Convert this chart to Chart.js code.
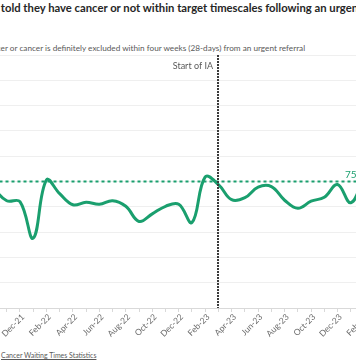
<!DOCTYPE html>
<html><head><meta charset="utf-8">
<script src="https://cdn.jsdelivr.net/npm/chart.js@4"></script>
<style>
html,body{margin:0;padding:0;width:356px;height:364px;overflow:hidden;background:#fff;}
#wrap{position:relative;width:356px;height:364px;overflow:hidden;}
.txt{position:absolute;white-space:nowrap;margin:0;padding:0;}
#title{color:#262626;}
#subtitle{color:#595959;}
#source{color:#595959;}
#source a{color:#595959;text-decoration:underline;}
#c{position:absolute;left:-40px;top:0;}
</style></head>
<body><div id="wrap">
<div id="title" class="txt">Percentage of patients told they have cancer or not within target timescales following an urgent referral</div>
<div id="subtitle" class="txt">Percentage of patients told they have cancer or cancer is definitely excluded within four weeks (28-days) from an urgent referral</div>
<div id="source" class="txt">Source: <a>Cancer Waiting Times Statistics</a></div>
<canvas id="c" width="420" height="364"></canvas>
</div>
<script>
const months = ['Oct-21','Nov-21','Dec-21','Jan-22','Feb-22','Mar-22','Apr-22','May-22','Jun-22','Jul-22','Aug-22','Sep-22','Oct-22','Nov-22','Dec-22','Jan-23','Feb-23','Mar-23','Apr-23','May-23','Jun-23','Jul-23','Aug-23','Sep-23','Oct-23','Nov-23','Dec-23','Jan-24','Feb-24'];
const fdsPerformance = [73.6,71.2,71.0,63.8,75.3,72.6,70.4,70.9,70.5,71.2,70.1,67.1,68.6,70.1,70.5,66.9,75.9,74.4,71.4,71.8,73.9,74.0,71.3,69.7,71.1,71.9,74.4,70.8,75.8];
const targetLine = [75,75,75,75,75,75,75,75,75,75,75,75,75,75,75,75,75,75,75,75,75,75,75,75,75,75,75,75,75];
const targetValue = 75;
const targetLabelMonth = 'Jan-24';
const iaMonth = 'Mar-23';
const iaLabel = 'Start of IA';
const yTicks = {min:50, max:100, step:5};

const green = '#1a9f6e';
const FAMILY = 'Lato, "Open Sans", sans-serif';

function placeText(el, weight, visible, prefix, x0, x1, baseline){
  const ctx = document.createElement('canvas').getContext('2d');
  ctx.font = weight + ' 20px ' + FAMILY;
  const w = ctx.measureText(visible).width;
  const size = 20 * (x1 - x0) / w;
  ctx.font = weight + ' ' + size + 'px ' + FAMILY;
  const m = ctx.measureText(visible);
  const pre = prefix ? ctx.measureText(prefix).width : 0;
  const A = m.fontBoundingBoxAscent, D = m.fontBoundingBoxDescent;
  const L = Math.ceil(A + D);
  el.style.font = weight + ' ' + size + 'px ' + FAMILY;
  el.style.lineHeight = L + 'px';
  el.style.left = (x0 - pre) + 'px';
  el.style.top = (baseline - (L - (A + D)) / 2 - A) + 'px';
}
placeText(document.getElementById('title'), 'bold',
  'told they have cancer or not within target timescales following an urge',
  'Percentage of patients ', 1, 353, 11.5);
placeText(document.getElementById('subtitle'), 'normal',
  'er or cancer is definitely excluded within four weeks (28-days) from an urgent referral',
  'Percentage of patients told they have canc', 1, 307, 51);
placeText(document.getElementById('source'), 'normal',
  'Cancer Waiting Times Statistics', 'Source: ', 1, 97, 358);

const annot = {
  id:'annot',
  afterDatasetsDraw(chart){
    const {ctx, chartArea:{top,bottom}, scales:{x,y}} = chart;
    const xi = Math.round(x.getPixelForValue(months.indexOf(iaMonth)));
    ctx.save();
    ctx.strokeStyle = '#3a3a3a'; ctx.lineWidth = 2; ctx.setLineDash([2,1]);
    ctx.beginPath(); ctx.moveTo(xi, top); ctx.lineTo(xi, bottom); ctx.stroke();
    ctx.setLineDash([]);
    ctx.fillStyle = '#595959'; ctx.font = '9px ' + FAMILY;
    ctx.textAlign = 'right'; ctx.textBaseline = 'middle';
    ctx.fillText(iaLabel, xi - 5, top + 11);
    const xl = x.getPixelForValue(months.indexOf(targetLabelMonth));
    ctx.fillStyle = green; ctx.font = '10px ' + FAMILY;
    ctx.textAlign = 'center'; ctx.textBaseline = 'alphabetic';
    ctx.fillText(String(targetValue), xl, y.getPixelForValue(targetValue) - 4);
    ctx.restore();
  }
};

new Chart(document.getElementById('c'), {
  type:'line',
  data:{
    labels: months,
    datasets:[
      {label:'Performance', data:fdsPerformance, borderColor:green, borderWidth:3, tension:0.4, pointRadius:0, fill:false, order:1},
      {label:'Target', data:targetLine, borderColor:green, borderWidth:2, borderDash:[3,3], pointRadius:0, fill:false, order:2}
    ]
  },
  options:{
    responsive:false, animation:false, devicePixelRatio:1,
    layout:{padding:{left:33.5, right:16, top:55, bottom:16}},
    plugins:{legend:{display:false}, tooltip:{enabled:false}, title:{display:false}},
    scales:{
      x:{
        type:'category', offset:false,
        grid:{display:true, drawOnChartArea:false, drawTicks:true, tickLength:4, color:'#d9d9d9'},
        border:{display:true, color:'#d9d9d9'},
        ticks:{autoSkip:false, maxRotation:45, minRotation:45, color:'#6a6a6a', padding:0, labelOffset:3,
          font:{family:FAMILY, size:8.5},
          callback:(v,i)=> i%2===0 ? months[i] : ''},
        afterFit(s){ s.height = 40; s.paddingLeft = 0; s.paddingRight = 0; }
      },
      y:{
        min:yTicks.min, max:yTicks.max,
        ticks:{display:false, stepSize:yTicks.step},
        grid:{color:'#efefef', drawTicks:false},
        border:{display:false},
        afterFit(s){ s.width = 0; }
      }
    }
  },
  plugins:[annot]
});
</script>
</body></html>
